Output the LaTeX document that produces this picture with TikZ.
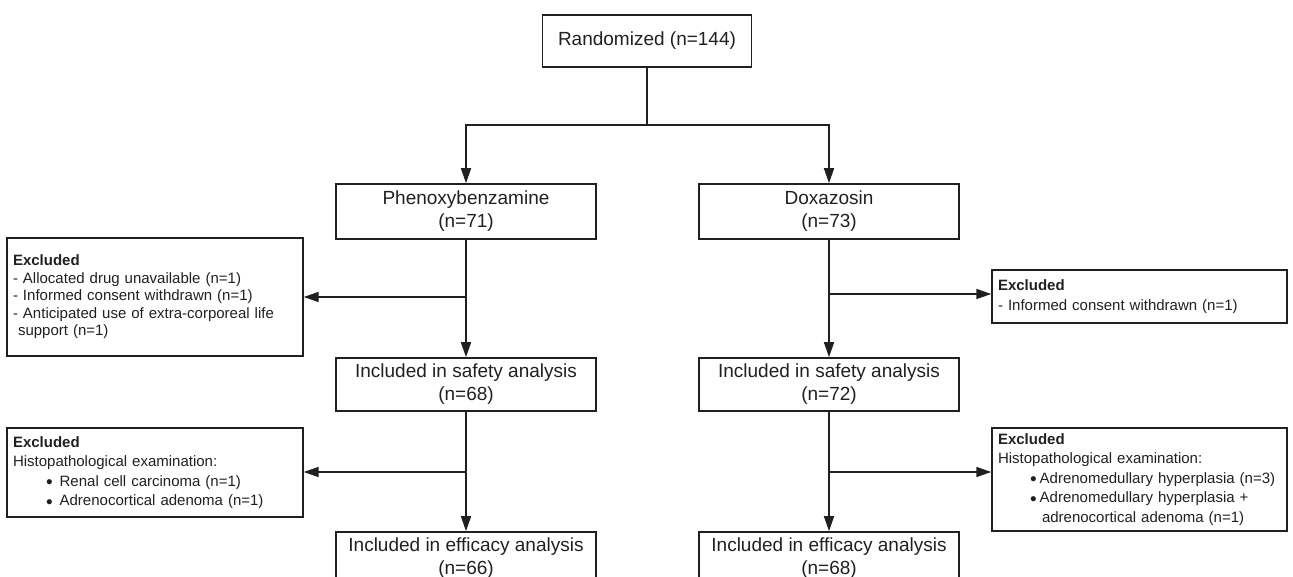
\documentclass[tikz,border=0pt]{standalone}
\usepackage{fontspec}
\setmainfont{Liberation Sans}
\usetikzlibrary{arrows.meta}
\definecolor{ink}{RGB}{35,31,32}
\newcommand{\blt}{\raisebox{-2.5pt}{\fontsize{19}{19}\selectfont\textbullet}}
\tikzset{
  box/.style={draw=ink, text=ink, line width=1.6pt, align=center, inner sep=0pt,
    font=\fontsize{19}{23}\selectfont},
  exbox/.style={draw=ink, text=ink, line width=1.4pt, align=left, inner xsep=6pt, inner ysep=0pt,
    font=\fontsize{15}{19.5}\selectfont},
  arr/.style={draw=ink, line width=1.6pt, -{Triangle[length=15pt,width=10pt]}},
  stem/.style={draw=ink, line width=1.8pt}
}
\begin{document}
\begin{tikzpicture}[x=1pt,y=-1pt]
  \useasboundingbox (0,0) rectangle (1293,577);
  \clip (0,0) rectangle (1293,577);
  % main column boxes
  \node[box, minimum width=209pt, minimum height=52pt] (rand) at (647,41) {Randomized (n=144)};
  \node[box, minimum width=260pt, minimum height=55pt] (phen) at (466,211.5) {Phenoxybenzamine\\(n=71)};
  \node[box, minimum width=260pt, minimum height=55pt] (dox) at (829,211.5) {Doxazosin\\(n=73)};
  \node[box, minimum width=260pt, minimum height=53pt] (safeP) at (466,384.5) {Included in safety analysis\\(n=68)};
  \node[box, minimum width=260pt, minimum height=53pt] (safeD) at (829,384.5) {Included in safety analysis\\(n=72)};
  \node[box, minimum width=260pt, minimum height=52pt] (effP) at (466,558) {Included in efficacy analysis\\(n=66)};
  \node[box, minimum width=260pt, minimum height=52pt] (effD) at (829,558) {Included in efficacy analysis\\(n=68)};
  % exclusion boxes
  \node[exbox, text width=284pt, minimum height=118pt, font=\fontsize{15}{17.5}\selectfont] (exP1) at (155,297)
    {\textbf{Excluded}\\- Allocated drug unavailable (n=1)\\- Informed consent withdrawn (n=1)\\- Anticipated use of extra-corporeal life\\\hspace*{5pt}support (n=1)};
  \node[exbox, text width=283pt, minimum height=53pt] (exD1) at (1139.5,296.5)
    {\textbf{Excluded}\\- Informed consent withdrawn (n=1)};
  \node[exbox, text width=284pt, minimum height=89pt] (exP2) at (155,472.5)
    {\textbf{Excluded}\\Histopathological examination:\\\hspace*{33pt}\blt\hspace{7pt}Renal cell carcinoma (n=1)\\\hspace*{33pt}\blt\hspace{7pt}Adrenocortical adenoma (n=1)};
  \node[exbox, text width=283pt, minimum height=103pt] (exD2) at (1139.5,479.5)
    {\textbf{Excluded}\\Histopathological examination:\\\hspace*{32pt}\blt\hspace{3pt}Adrenomedullary hyperplasia (n=3)\\\hspace*{32pt}\blt\hspace{3pt}Adrenomedullary hyperplasia +\\\hspace*{44pt}adrenocortical adenoma (n=1)};
  % connectors
  \coordinate (split) at (647,125);
  \draw[stem] (rand.south) -- (split);
  \draw[arr] (split) -| (phen);
  \draw[arr] (split) -| (dox);
  \draw[arr] (phen) -- (safeP);
  \draw[arr] (dox) -- (safeD);
  \draw[arr] (safeP) -- (effP);
  \draw[arr] (safeD) -- (effD);
  \draw[arr] (phen.south |- exP1.east) -- (exP1.east);
  \draw[arr] (dox.south |- 0,294) -- (exD1.west |- 0,294);
  \draw[arr] (safeP.south |- 0,472) -- (exP2.east |- 0,472);
  \draw[arr] (safeD.south |- 0,472) -- (exD2.west |- 0,472);
\end{tikzpicture}
\end{document}
